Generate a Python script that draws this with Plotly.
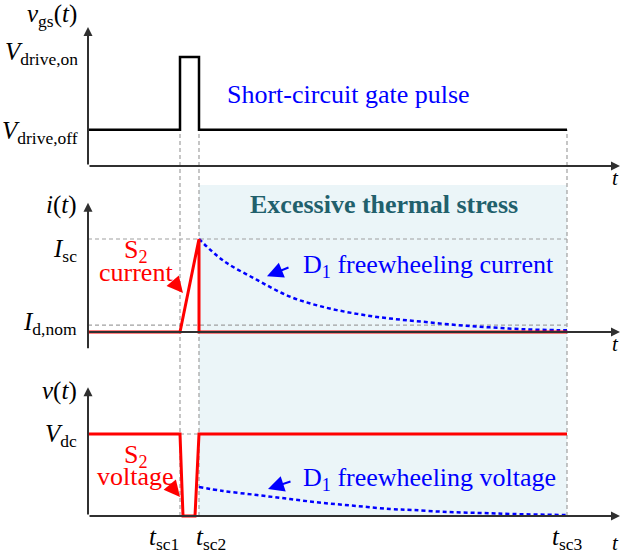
import plotly.graph_objects as go

# ---------------- data (conceptual time units) ----------------
T_SC1, T_SC2, T_SC3, T_END = 9.2, 11.1, 47.9, 53.2

V_OFF, V_ON = 1.0, 3.0          # gate drive levels
I_SC, I_NOM = 1.0, 0.075        # current levels
V_DC = 1.0                      # dc-link voltage

vgs_t = [0, T_SC1, T_SC1, T_SC2, T_SC2, T_SC3]
vgs_v = [V_OFF, V_OFF, V_ON, V_ON, V_OFF, V_OFF]

is2_t = [0, T_SC1, T_SC2, T_SC2, T_SC3]
is2_v = [0, 0, I_SC, 0, 0]

id1_t = [11.1, 13.5, 16.9, 20.2, 23.5, 26.9, 30.2, 33.5, 36.9, 40.2, 43.5, 46.9, 47.9]
id1_v = [1.0, 0.77, 0.56, 0.38, 0.27, 0.195, 0.145, 0.11, 0.075, 0.05, 0.03, 0.02, 0.02]

vs2_t = [0, T_SC1, 9.5, 10.7, T_SC2, T_SC3]
vs2_v = [V_DC, V_DC, 0, 0, V_DC, V_DC]

vd1_t = [11.1, 13.5, 16.9, 20.2, 23.5, 26.9, 30.2, 32.5, 35.9, 39.2, 42.5, 47.5, 47.9]
vd1_v = [0.354, 0.305, 0.256, 0.207, 0.159, 0.122, 0.085, 0.073, 0.049, 0.037, 0.024, 0.012, 0.01]

# ---------------- layout helpers ----------------
W, H = 621, 554
FONT = "Liberation Serif"
RED, BLUE, TEAL, GREY = "#FF0000", "#0000FF", "#21606C", "#A0A0A0"
AX = "#303030"

def yax(px_top, px_bot, px_zero, ppu):
    return dict(domain=[1 - px_bot / H, 1 - px_top / H],
                range=[(px_zero - px_bot) / ppu, (px_zero - px_top) / ppu],
                visible=False, anchor="x", fixedrange=True)

Y1 = yax(0, 180, 166, 36.3)
Y2 = yax(180, 365, 332, 93.0)
Y3 = yax(365, 554, 516, 82.0)

def to_paper(ax, v):
    d0, d1 = ax["domain"]; r0, r1 = ax["range"]
    return d0 + (v - r0) / (r1 - r0) * (d1 - d0)

fig = go.Figure()
fig.add_trace(go.Scatter(x=vgs_t, y=vgs_v, mode="lines", yaxis="y",
                         line=dict(color="black", width=2.5), hoverinfo="skip"))
fig.add_trace(go.Scatter(x=id1_t, y=id1_v, mode="lines", yaxis="y2",
                         line=dict(color=BLUE, width=2.5, dash="4px,3px", shape="spline"), hoverinfo="skip"))
fig.add_trace(go.Scatter(x=is2_t, y=is2_v, mode="lines", yaxis="y2",
                         line=dict(color=RED, width=3), hoverinfo="skip"))
fig.add_trace(go.Scatter(x=vd1_t, y=vd1_v, mode="lines", yaxis="y3",
                         line=dict(color=BLUE, width=2.5, dash="4px,3px", shape="spline"), hoverinfo="skip"))
fig.add_trace(go.Scatter(x=vs2_t, y=vs2_v, mode="lines", yaxis="y3",
                         line=dict(color=RED, width=3), hoverinfo="skip"))

shapes = []
shapes.append(dict(type="rect", xref="x", yref="paper", x0=T_SC2, x1=T_SC3,
                   y0=to_paper(Y3, 0), y1=to_paper(Y2, 1.58),
                   fillcolor="#EBF5F8", line=dict(width=0), layer="below"))
for tx in (T_SC1, T_SC2, T_SC3):
    shapes.append(dict(type="line", xref="x", yref="paper", x0=tx, x1=tx,
                       y0=to_paper(Y3, 0), y1=to_paper(Y1, V_OFF),
                       line=dict(color=GREY, width=1.2, dash="4px,3px"), layer="below"))
shapes.append(dict(type="line", xref="x", yref="y2", x0=0, x1=T_SC3, y0=I_SC, y1=I_SC,
                   line=dict(color=GREY, width=1.2, dash="4px,3px"), layer="below"))
shapes.append(dict(type="line", xref="x", yref="y2", x0=0, x1=T_SC3, y0=I_NOM, y1=I_NOM,
                   line=dict(color=GREY, width=1.2, dash="4px,3px"), layer="below"))
shapes.append(dict(type="line", xref="x", yref="y3", x0=T_SC1, x1=T_SC2, y0=V_DC, y1=V_DC,
                   line=dict(color=GREY, width=1.2, dash="4px,3px"), layer="below"))

ann = []
def arrow(yref, x0, y0, x1, y1, color=AX, width=2, size=0.9, head=2):
    ann.append(dict(xref="x", yref=yref, axref="x", ayref=yref, x=x1, y=y1, ax=x0, ay=y0,
                    text="", showarrow=True, arrowhead=head, arrowsize=size,
                    arrowwidth=width, arrowcolor=color, standoff=0, startstandoff=0))

def label(yref, x, y, text, size=22, color="black", xanchor="center", xshift=0, yanchor="middle"):
    ann.append(dict(xref="x", yref=yref, x=x, y=y, text=text, showarrow=False,
                    xanchor=xanchor, yanchor=yanchor, xshift=xshift,
                    font=dict(family=FONT, size=size, color=color)))

# axes
arrow("y", 0, 0, T_END, 0)
arrow("y", 0, 0, 0, 3.83)
arrow("y2", 0, 0, T_END, 0)
arrow("y2", 0, -0.19, 0, 1.39)
arrow("y3", 0, 0, T_END, 0)
arrow("y3", 0, 0, 0, 1.57)

for yr, yv in (("y", -0.33), ("y2", -0.13), ("y3", -0.33)):
    label(yr, 52.7, yv, "<i>t</i>", size=21)

label("y", 0, 4.15, "<i>v</i><sub>gs</sub>(<i>t</i>)", size=25, xanchor="right", xshift=-9)
label("y", 0, 3.1, "<i>V</i><sub>drive,on</sub>", size=25, xanchor="right", xshift=-8)
label("y", 0, 0.93, "<i>V</i><sub>drive,off</sub>", size=25, xanchor="right", xshift=-8)
label("y2", 0, 1.37, "<i>i</i>(<i>t</i>)", size=25, xanchor="right", xshift=-9)
label("y2", 0, 0.88, "<i>I</i><sub>sc</sub>", size=25, xanchor="right", xshift=-9)
label("y2", 0, 0.09, "<i>I</i><sub>d,nom</sub>", size=25, xanchor="right", xshift=-9)
label("y3", 0, 1.52, "<i>v</i>(<i>t</i>)", size=25, xanchor="right", xshift=-9)
label("y3", 0, 0.98, "<i>V</i><sub>dc</sub>", size=25, xanchor="right", xshift=-9)

label("y3", T_SC1, -0.27, "<i>t</i><sub>sc1</sub>", size=25, xanchor="right", xshift=1)
label("y3", T_SC2, -0.27, "<i>t</i><sub>sc2</sub>", size=25, xanchor="left", xshift=-5)
label("y3", T_SC3, -0.27, "<i>t</i><sub>sc3</sub>", size=25)

label("y", 26.0, 1.98, "Short-circuit gate pulse", size=26, color=BLUE)
label("y2", 29.6, 1.366, "<b>Excessive thermal stress</b>", size=26, color=TEAL)
label("y2", 34.0, 0.71, "D<sub>1</sub> freewheeling current", size=26, color=BLUE)
label("y3", 34.1, 0.45, "D<sub>1</sub> freewheeling voltage", size=26, color=BLUE)
label("y2", 4.8, 0.875, "S<sub>2</sub>", size=26, color=RED)
label("y2", 4.8, 0.635, "current", size=26, color=RED)
label("y3", 4.8, 0.735, "S<sub>2</sub>", size=26, color=RED)
label("y3", 4.7, 0.48, "voltage", size=26, color=RED)

arrow("y2", 8.4, 0.56, 9.5, 0.42, color=RED, width=2, size=1.6)
arrow("y3", 8.2, 0.378, 9.2, 0.232, color=RED, width=2, size=1.6)
arrow("y2", 20.2, 0.70, 17.9, 0.60, color=BLUE, width=2, size=1.6)
arrow("y3", 20.4, 0.427, 18.0, 0.33, color=BLUE, width=2, size=1.6)

fig.update_layout(
    width=W, height=H, margin=dict(l=0, r=0, t=0, b=0),
    paper_bgcolor="white", plot_bgcolor="rgba(0,0,0,0)",
    showlegend=False,
    xaxis=dict(range=[-8.8, (W - 88) / 10], visible=False, fixedrange=True),
    yaxis=Y1, yaxis2=Y2, yaxis3=Y3,
    shapes=shapes, annotations=ann,
)

fig.write_html("out.html")
